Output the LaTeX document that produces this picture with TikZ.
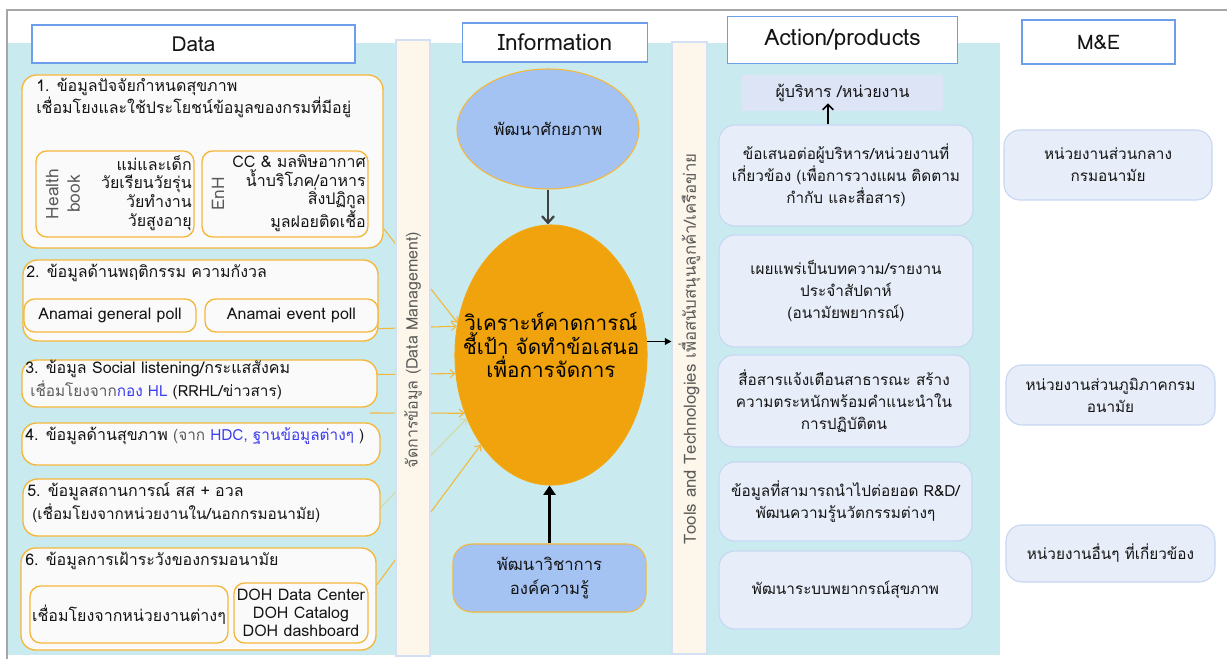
\documentclass[tikz,border=0pt]{standalone}
\usepackage{fontspec}
\setmainfont[Script=Thai]{Loma}
\usetikzlibrary{calc,arrows.meta,shapes.geometric}
\definecolor{cyanbg}{HTML}{C9EBEF}
\definecolor{framegray}{HTML}{A6A6A6}
\definecolor{hdrblue}{HTML}{6D9EEB}
\definecolor{cream}{HTML}{FDF6EA}
\definecolor{barline}{HTML}{D3DFF3}
\definecolor{orng}{HTML}{F4B73A}
\definecolor{boxw}{HTML}{FAFAFA}
\definecolor{bigorange}{HTML}{F0A30C}
\definecolor{lblue}{HTML}{A4C2F2}
\definecolor{afill}{HTML}{E8EEF9}
\definecolor{aline}{HTML}{C6D6F2}
\definecolor{bossfill}{HTML}{DCE4F6}
\definecolor{txt}{HTML}{141414}
\definecolor{gtxt}{HTML}{5A5A5A}
\definecolor{bluetxt}{HTML}{3B3BF0}
\definecolor{paleline}{HTML}{D2D8A6}
\newcommand\myfs[2]{\fontsize{#1}{#2}\selectfont}
\begin{document}
\begin{tikzpicture}[x=0.75pt,y=-0.75pt,
  every node/.style={text=txt, inner sep=0pt},
  sz/.style 2 args={minimum width=#1*0.75pt, minimum height=#2*0.75pt},
  hdr/.style={draw=hdrblue, line width=1.4pt, fill=white},
  bar/.style={draw=barline, line width=0.8pt, fill=cream},
  obox/.style={draw=orng, line width=1pt, fill=boxw, rounded corners=11pt},
  ibox/.style={draw=orng, line width=1pt, fill=boxw, rounded corners=8pt},
  abox/.style={draw=aline, line width=0.8pt, fill=afill, rounded corners=12pt, align=center, font=\myfs{11.5}{16.5}},
  ttl/.style={anchor=west, align=left, font=\myfs{12}{15}},
  rtxt/.style={rotate=90, text=gtxt},
  conn/.style={draw=orng, line width=0.8pt, -{Straight Barb[length=3.5pt,width=6pt]}},
]
\useasboundingbox (0,0) rectangle (1227,659);
\fill[white] (0,0) rectangle (1227,659);
\fill[cyanbg] (8,43) rectangle (1000,655);
\draw[framegray, line width=0.9pt] (7,659) -- (7,10) -- (1227,10);

% headers
\node[hdr, sz={323}{38}, font=\myfs{15.5}{17}] (hData) at (193.5,44) {Data};
\node[hdr, sz={185}{39}, font=\myfs{17}{19}] (hInfo) at (555,42.5) {Information};
\node[hdr, sz={230}{47}, font=\myfs{17}{19}] (hAct) at (842.5,40) {Action/products};
\node[hdr, sz={153}{44}, font=\myfs{15}{17}] (hME) at (1098.5,42) {M\&E};

% ---- Data column ----
\node[obox, sz={361}{173}] (b1) at (202.5,161.5) {};
\node[ttl, anchor=north west] (b1t) at (36,78) {1. ข้อมูลปัจจัยกำหนดสุขภาพ\\เชื่อมโยงและใช้ประโยชน์ข้อมูลของกรมที่มีอยู่};
\node[ibox, sz={158}{86}] (hb) at (115,194) {};
\node[ibox, sz={166}{86}] (enh) at (285,194) {};
\node[rtxt, align=center, font=\myfs{13}{16}] (hbl) at (63,194) {Health\\book};
\node[rtxt, font=\myfs{13}{16}] (enhl) at (218,194) {EnH};
\node[anchor=east, align=right, font=\myfs{12}{14}] (hbt) at (192,193) {แม่และเด็ก\\วัยเรียนวัยรุ่น\\วัยทำงาน\\วัยสูงอายุ};
\node[anchor=east, align=right, font=\myfs{12}{14}] (enht) at (366,193) {CC \& มลพิษอากาศ\\น้ำบริโภค/อาหาร\\สิ่งปฏิกูล\\มูลฝอยติดเชื้อ};

\node[obox, sz={355}{81}] (b2) at (200.5,300.5) {};
\node[ttl] (b2t) at (26,273) {2. ข้อมูลด้านพฤติกรรม ความกังวล};
\node[ibox, sz={172}{33}, font=\myfs{12}{14}] (p1) at (110,315.5) {Anamai general poll};
\node[ibox, sz={173}{33}, font=\myfs{12}{14}] (p2) at (291.5,315.5) {Anamai event poll};

\node[obox, sz={355}{47}] (b3) at (199.5,383.5) {};
\node[ttl] (b3t) at (25,369) {3. ข้อมูล Social listening/กระแสสังคม};
\node[ttl, font=\myfs{11.5}{14}] (b3s) at (30,390) {\textcolor{gtxt}{เชื่อมโยงจาก}\textcolor{bluetxt}{กอง HL} (RRHL/ข่าวสาร)};

\node[obox, sz={358}{42}] (b4) at (201,444) {};
\node[ttl] (b4t) at (25,436) {4. ข้อมูลด้านสุขภาพ {\myfs{11.5}{14}\textcolor{gtxt}{(จาก} \textcolor{bluetxt}{HDC, ฐานข้อมูลต่างๆ} )}};

\node[obox, sz={357}{57}] (b5) at (201.5,507.5) {};
\node[ttl] (b5t) at (27,492) {5. ข้อมูลสถานการณ์ สส + อวล};
\node[ttl, font=\myfs{11.5}{14}] (b5s) at (32,513) {(เชื่อมโยงจากหน่วยงานใน/นอกกรมอนามัย)};

\node[obox, sz={355}{102}] (b6) at (198.5,599) {};
\node[ttl] (b6t) at (25,561) {6. ข้อมูลการเฝ้าระวังของกรมอนามัย};
\node[ibox, sz={198}{57}, font=\myfs{12}{14}] (l6) at (129,614.5) {เชื่อมโยงจากหน่วยงานต่างๆ};
\node[ibox, sz={134}{60}, align=center, font=\myfs{12}{13.5}] (doh) at (301,613) {DOH Data Center\\DOH Catalog\\DOH dashboard};

% ---- Information column ----
\node[ellipse, draw=orng, line width=0.8pt, fill=lblue, sz={182}{120}, font=\myfs{12.5}{15}] (dev) at (548,129) {พัฒนาศักยภาพ};
\node[ellipse, draw=bigorange!80!orng, line width=0.8pt, fill=bigorange, sz={192}{260}] (big) at (551,355) {};
\node[align=center, font=\myfs{15.5}{17.5}, text=black] (bigt) at (551,345) {วิเคราะห์คาดการณ์\\ชี้เป้า จัดทำข้อเสนอ\\เพื่อการจัดการ};
\node[draw=orng, line width=0.8pt, fill=lblue, rounded corners=14pt, sz={193}{68}, align=center, font=\myfs{12.5}{18}] (kb) at (549.5,578) {พัฒนาวิชาการ\\องค์ความรู้};

% connectors data -> analysis
\coordinate (s1) at ($(b1.south east)+(0,-20)$);
\coordinate (s2) at ($(b2.south east)+(0,-13)$);
\coordinate (s3) at ($(b3.east)+(0,-9)$);
\coordinate (s4) at (370,413);
\coordinate (s6) at ($(b6.east)+(0,-14)$);
\draw[conn] (s1) -- (big.161);
\draw[conn] (s2) -- (big.163);
\draw[conn] (s3) -- (big.191.8);
\draw[conn] (s4) -- (big.214);
\draw[conn, draw=paleline] (b5.east) -- (big.217.7);
\draw[conn] (s6) -- (big.232);

% bars (on top of connectors)
\node[bar, sz={34}{616}] (dm) at (413,348) {};
\node[rtxt, font=\myfs{12}{14}] (dmt) at (413,350) {จัดการข้อมูล (Data Management)};
\node[bar, sz={35}{612}] (tools) at (689.5,348) {};
\node[rtxt, font=\myfs{12.6}{14}] (toolst) at (689.5,349) {Tools and Technologies เพื่อสนับสนุนลูกค้า/เครือข่าย};

% arrows in information column
\draw[draw=black!75, line width=1.7pt, -{Straight Barb[length=5pt,width=9pt]}] (dev.south) -- (dev.south |- big.north);
\draw[draw=black, line width=2.2pt, -{Triangle[length=7pt,width=9pt]}] (kb.north) -- (kb.north |- big.south);
\draw[draw=black, line width=1.1pt, -{Triangle[length=5pt,width=5pt]}] (big.8) -- (big.8 -| tools.west);

% ---- Action column ----
\node[fill=bossfill, sz={201}{36}, font=\myfs{12}{14}] (boss) at (842.5,93) {ผู้บริหาร /หน่วยงาน};
\node[abox, sz={254}{101}] (a1) at (846,175.5) {ข้อเสนอต่อผู้บริหาร/หน่วยงานที่\\เกี่ยวข้อง (เพื่อการวางแผน ติดตาม\\กำกับ และสื่อสาร)};
\node[abox, sz={254}{112}] (a2) at (846,291) {เผยแพร่เป็นบทความ/รายงาน\\ประจำสัปดาห์\\(อนามัยพยากรณ์)};
\node[abox, sz={252}{92}] (a3) at (844,401) {สื่อสารแจ้งเตือนสาธารณะ สร้าง\\ความตระหนักพร้อมคำแนะนำใน\\การปฏิบัติตน};
\node[abox, sz={253}{79}] (a4) at (845.5,501.5) {ข้อมูลที่สามารถนำไปต่อยอด R\&D/\\พัฒนความรู้นวัตกรรมต่างๆ};
\node[abox, sz={253}{78}] (a5) at (845.5,590) {พัฒนาระบบพยากรณ์สุขภาพ};
\coordinate (aup) at ([xshift=-13.5pt]a1.north);
\coordinate (atip) at ($(aup |- boss.south)+(0,-8)$);
\draw[draw=black, line width=1.2pt, -{Straight Barb[length=4pt,width=8pt]}] (aup) -- (atip);

% ---- M&E column ----
\node[abox, sz={208}{70}] (m1) at (1108,165) {หน่วยงานส่วนกลาง\\กรมอนามัย};
\node[abox, sz={209}{60}] (m2) at (1110.5,395) {หน่วยงานส่วนภูมิภาคกรม\\อนามัย};
\node[abox, sz={209}{57}] (m3) at (1110.5,553.5) {หน่วยงานอื่นๆ ที่เกี่ยวข้อง};
\end{tikzpicture}
\end{document}
